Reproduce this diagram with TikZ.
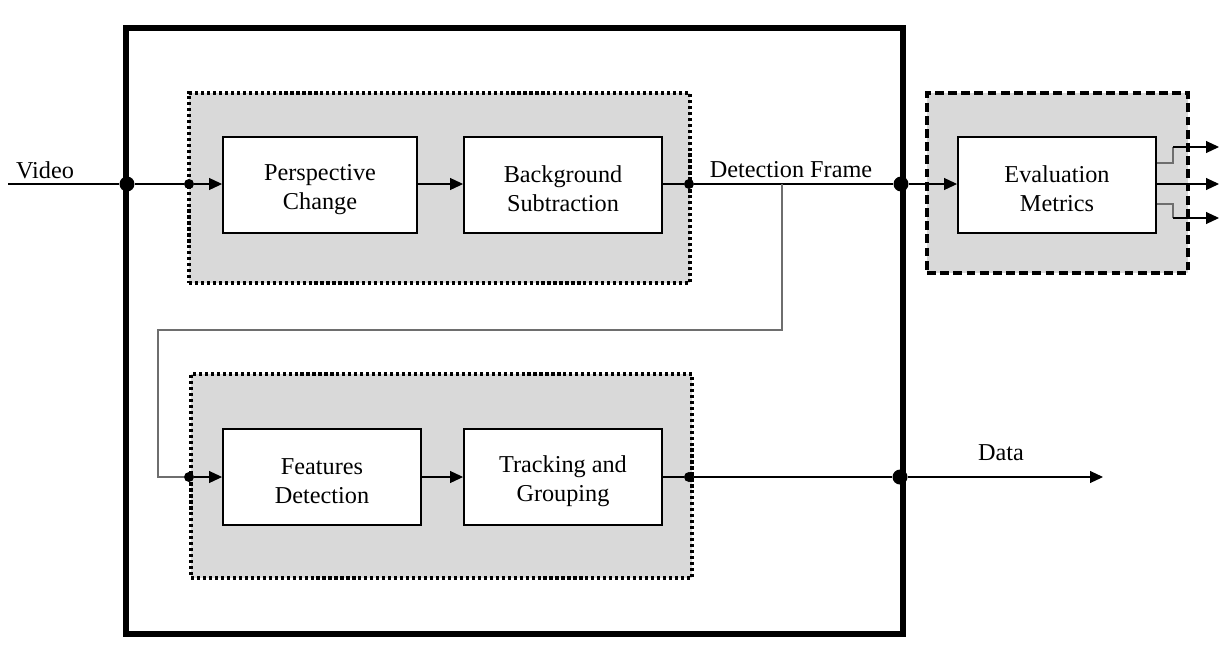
\documentclass[tikz,border=0pt]{standalone}
\usepackage{fontspec}
\setmainfont{Liberation Serif}
\usetikzlibrary{positioning,arrows.meta}
\definecolor{panelgray}{RGB}{217,217,217}
\definecolor{wiregray}{RGB}{110,110,110}

\begin{document}
\begin{tikzpicture}[x=0.02cm,y=-0.02cm,
    font=\fontsize{13.8}{16.5}\selectfont,
    block/.style={draw,line width=1.1pt,fill=white,align=center,
                  minimum width=3.96cm,minimum height=1.92cm,inner sep=0pt},
    panel/.style={fill=panelgray,draw,line width=1.8pt,inner sep=0pt},
    wire/.style={line width=0.6pt},
    arr/.style={wire,-{Triangle[length=0.26cm,width=0.24cm]}},
    bigdot/.style={circle,fill,inner sep=0pt,minimum size=0.3cm},
    smalldot/.style={circle,fill,inner sep=0pt,minimum size=0.2cm}]
  \useasboundingbox (0,0) rectangle (1227,653);

  % outer frame
  \draw[line width=2.9pt] (126,28) rectangle (903,634);

  % grey panels
  \node[panel,dash pattern=on 1.8pt off 1.6pt,minimum width=10.02cm,minimum height=3.8cm] (toppanel) at (439.5,188) {};
  \node[panel,dash pattern=on 1.8pt off 1.6pt,minimum width=10.02cm,minimum height=4.08cm] (botpanel) at (441.5,476) {};
  \node[panel,dash pattern=on 5pt off 2.5pt,minimum width=5.22cm,minimum height=3.6cm] (evalpanel) at (1057.5,183) {};

  % blocks
  \node[block,minimum width=3.88cm] (persp) at (320,185) {\rule{0pt}{14pt}Perspective\\Change};
  \node[block] (bgsub) at (563,185) {\rule{0pt}{14pt}Background\\Subtraction};
  \node[block] (feat) at (322,477) {\rule{0pt}{14pt}Features\\Detection};
  \node[block] (track) at (563,477) {\rule{0pt}{14pt}Tracking and\\Grouping};
  \node[block] (evalm) at (1057,185) {\rule{0pt}{14pt}Evaluation\\Metrics};

  % junctions
  \coordinate (vin) at (8,184);
  \node[bigdot] (jin) at (127,184) {};
  \node[smalldot] (sin) at (189,184) {};
  \node[smalldot] (sout) at (689,184) {};
  \coordinate (split) at (782,184);
  \node[bigdot] (jdet) at (901,184) {};
  \node[smalldot] (sfeat) at (189,477) {};
  \node[smalldot] (strack) at (689,477) {};
  \node[bigdot] (jdata) at (900,477) {};
  \coordinate (dout) at (1103,477);
  \coordinate (loopa) at (782,330);
  \coordinate (loopb) at (158,330);
  \coordinate (loopc) at (158,477);

  % main path
  \draw[wire] (vin) -- (jin) -- (sin);
  \draw[arr] (sin) -- (persp.west |- sin);
  \draw[arr] (persp.east |- sin) -- (bgsub.west |- sin);
  \draw[wire] (bgsub.east |- sout) -- (sout) -- (jdet);
  \draw[arr] (jdet) -- (evalm.west |- jdet);

  % loop down to the second stage
  \draw[wire,draw=wiregray] (split) -- (loopa) -- (loopb) -- (loopc) -- (sfeat);
  \draw[arr] (sfeat) -- (feat.west |- sfeat);
  \draw[arr] (feat.east |- sfeat) -- (track.west |- sfeat);
  \draw[wire] (track.east |- strack) -- (strack) -- (jdata);
  \draw[arr] (jdata) -- (dout);

  % outputs of the metrics
  \coordinate (outa) at (1219,147);
  \coordinate (outb) at (1219,184);
  \coordinate (outc) at (1219,218);
  \draw[wire,draw=wiregray] (evalm.east |- 0,163) -| (1173,147);
  \draw[arr] (1173,147) -- (outa);
  \draw[arr] (evalm.east |- outb) -- (outb);
  \draw[wire,draw=wiregray] (evalm.east |- 0,204) -| (1173,218);
  \draw[arr] (1173,218) -- (outc);

  % labels
  \node (lvideo) at (45,170) {Video};
  \node (ldet) at (791,170) {Detection Frame};
  \node (ldata) at (1001,453) {Data};
\end{tikzpicture}
\end{document}
